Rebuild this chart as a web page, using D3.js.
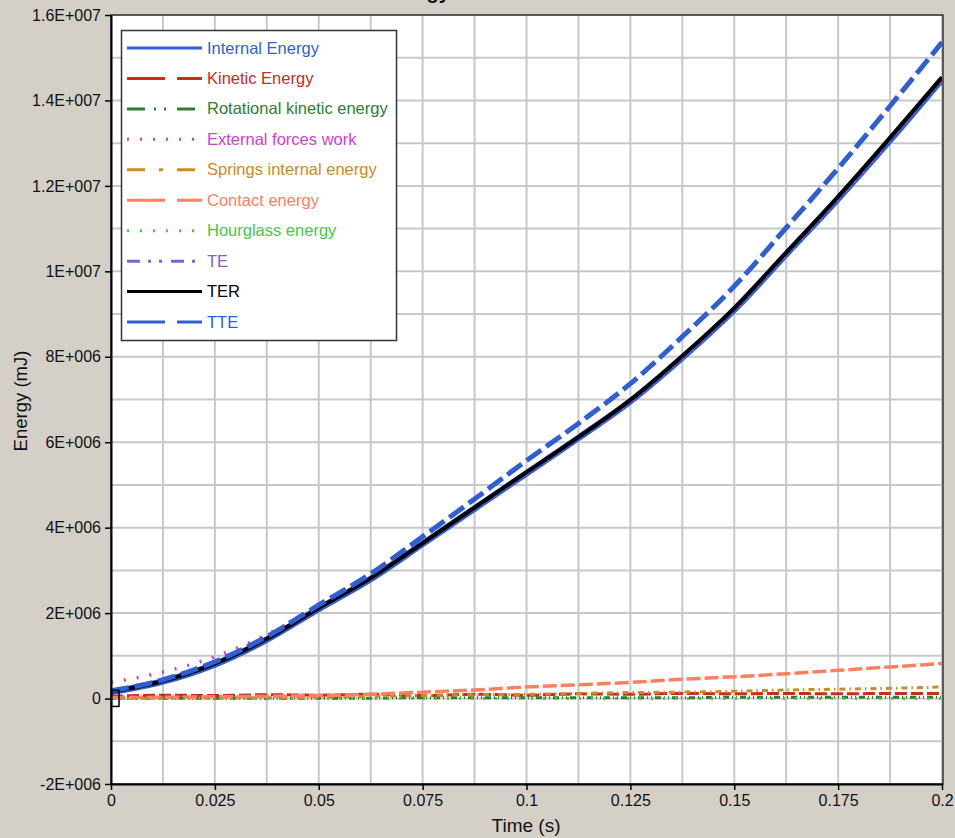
<!DOCTYPE html>
<html>
<head>
<meta charset="utf-8">
<title>Energy</title>
<script src="https://d3js.org/d3.v7.min.js"></script>
<style>
  body { margin: 0; background: #d4d0c8; }
  svg { display: block; font-family: "Liberation Sans", Arial, sans-serif; }
</style>
</head>
<body>
<svg id="chart" width="955" height="838"></svg>
<script>
// ---------------- data (energy in mJ) ----------------
var times = [0, 0.0125, 0.025, 0.0375, 0.05, 0.0625, 0.075, 0.0875, 0.1,
             0.1125, 0.125, 0.1375, 0.15, 0.1625, 0.175, 0.1875, 0.2];

var internalEnergy = [0.15e6, 0.40e6, 0.80e6, 1.38e6, 2.10e6, 2.80e6, 3.62e6, 4.45e6, 5.27e6,
                      6.10e6, 6.96e6, 7.98e6, 9.10e6, 10.40e6, 11.70e6, 13.07e6, 14.50e6];
var kineticEnergy = [0.05e6, 0.08e6, 0.07e6, 0.09e6, 0.08e6, 0.10e6, 0.07e6, 0.10e6, 0.08e6,
                     0.11e6, 0.10e6, 0.12e6, 0.11e6, 0.12e6, 0.11e6, 0.12e6, 0.12e6];
var rotationalEnergy = [0, 0.01e6, 0.01e6, 0.01e6, 0.01e6, 0.01e6, 0.02e6, 0.02e6, 0.02e6,
                        0.02e6, 0.02e6, 0.02e6, 0.03e6, 0.03e6, 0.03e6, 0.03e6, 0.03e6];
var externalWork = [0.38e6, 0.62e6, 0.98e6, 1.50e6, 2.15e6, 2.82e6, 3.62e6, 4.44e6, 5.26e6,
                    6.08e6, 6.94e6, 7.96e6, 9.08e6, 10.38e6, 11.68e6, 13.06e6, 14.50e6];
var springsEnergy = [0, 0.01e6, 0.02e6, 0.02e6, 0.03e6, 0.05e6, 0.07e6, 0.09e6, 0.10e6,
                     0.12e6, 0.14e6, 0.15e6, 0.17e6, 0.20e6, 0.22e6, 0.24e6, 0.27e6];
var contactEnergy = [0.02e6, 0.03e6, 0.04e6, 0.05e6, 0.07e6, 0.10e6, 0.15e6, 0.20e6, 0.27e6,
                     0.32e6, 0.38e6, 0.45e6, 0.51e6, 0.58e6, 0.66e6, 0.74e6, 0.82e6];
var hourglassEnergy = [0, 0, 0, 0, 0, 0, 0, 0, 0, 0, 0, 0, 0, 0, 0, 0, 0];
var totalEnergy = [0.16e6, 0.41e6, 0.81e6, 1.39e6, 2.11e6, 2.81e6, 3.63e6, 4.46e6, 5.29e6,
                   6.12e6, 6.98e6, 8.00e6, 9.13e6, 10.43e6, 11.74e6, 13.12e6, 14.55e6];
var terEnergy = [0.16e6, 0.41e6, 0.82e6, 1.40e6, 2.12e6, 2.82e6, 3.64e6, 4.47e6, 5.30e6,
                 6.12e6, 6.99e6, 8.02e6, 9.14e6, 10.44e6, 11.75e6, 13.13e6, 14.54e6];
var tteEnergy = [0.18e6, 0.44e6, 0.86e6, 1.45e6, 2.19e6, 2.92e6, 3.79e6, 4.67e6, 5.57e6,
                 6.44e6, 7.37e6, 8.47e6, 9.65e6, 11.02e6, 12.41e6, 13.87e6, 15.36e6];

var seriesNames = ["Internal Energy", "Kinetic Energy", "Rotational kinetic energy",
                   "External forces work", "Springs internal energy", "Contact energy",
                   "Hourglass energy", "TE", "TER", "TTE"];
var seriesValues = [internalEnergy, kineticEnergy, rotationalEnergy, externalWork, springsEnergy,
                    contactEnergy, hourglassEnergy, totalEnergy, terEnergy, tteEnergy];

var yTickValues = [-2e6, 0, 2e6, 4e6, 6e6, 8e6, 10e6, 12e6, 14e6, 16e6];
var yTickLabels = ["-2E+006", "0", "2E+006", "4E+006", "6E+006", "8E+006",
                   "1E+007", "1.2E+007", "1.4E+007", "1.6E+007"];
var xTickValues = [0, 0.025, 0.05, 0.075, 0.1, 0.125, 0.15, 0.175, 0.2];
var xTickLabels = ["0", "0.025", "0.05", "0.075", "0.1", "0.125", "0.15", "0.175", "0.2"];

// ---------------- styles ----------------
var styles = [
  {color: "#2f5fd3", dash: null,              width: 6.5},
  {color: "#cc2a1c", dash: "12,4",            width: 3},
  {color: "#2e7d32", dash: "6,3,1,3,1,3",     width: 3},
  {color: "#d040cf", dash: "2,11",            width: 3.5},
  {color: "#cf8a1e", dash: "6,4,1.5,4",       width: 3},
  {color: "#ff8060", dash: "14,4",            width: 3.5},
  {color: "#48c848", dash: "2,10",            width: 3},
  {color: "#8060d0", dash: "5,3,1,3,1,3",     width: 3},
  {color: "#000000", dash: null,              width: 4},
  {color: "#2f5fd3", dash: "18,6",            width: 5}
];
var legendDash = [null, "38,12", "18,9,2,8,2,11", "2,11", "18,14,4,14", "38,12",
                  "2,11", "13,8,3,8,3,9", null, "38,12"];

var svg = d3.select("#chart");
var pL = 111, pR = 942, pT = 15, pB = 784;

var x = d3.scaleLinear().domain([0, 0.2]).range([pL, pR]);
var y = d3.scaleLinear().domain([-2e6, 16e6]).range([pB, pT]);

// plot background
svg.append("rect").attr("x", pL).attr("y", pT)
   .attr("width", pR - pL).attr("height", pB - pT).attr("fill", "#fff");

// grid
var gx = d3.range(0, 0.2001, 0.0125);
var gy = d3.range(-2e6, 16.001e6, 1e6);
svg.append("g").selectAll("line").data(gx).enter().append("line")
   .attr("x1", d => x(d)).attr("x2", d => x(d)).attr("y1", pT).attr("y2", pB)
   .attr("stroke", "#c8c8c8").attr("stroke-width", 2);
svg.append("g").selectAll("line").data(gy).enter().append("line")
   .attr("x1", pL).attr("x2", pR).attr("y1", d => y(d)).attr("y2", d => y(d))
   .attr("stroke", "#c8c8c8").attr("stroke-width", 2);

// clip
svg.append("clipPath").attr("id", "clip").append("rect")
   .attr("x", pL).attr("y", pT).attr("width", pR - pL).attr("height", pB - pT);

var line = d3.line().curve(d3.curveMonotoneX).x(d => x(d[0])).y(d => y(d[1]));
var plot = svg.append("g").attr("clip-path", "url(#clip)");
seriesValues.forEach(function (vals, i) {
  var pts = times.map((t, j) => [t, vals[j]]);
  plot.append("path").datum(pts)
      .attr("d", line)
      .attr("fill", "none")
      .attr("stroke", styles[i].color)
      .attr("stroke-width", styles[i].width)
      .attr("stroke-linejoin", "round")
      .attr("stroke-dasharray", styles[i].dash);
});

// small marker box at the origin
svg.append("rect").attr("x", x(0) + 0.5).attr("y", y(0.19e6))
   .attr("width", 7.5).attr("height", 16)
   .attr("fill", "none").attr("stroke", "#000").attr("stroke-width", 1.5);

// frame
svg.append("rect").attr("x", pL).attr("y", pT)
   .attr("width", pR - pL + 1).attr("height", pB - pT)
   .attr("fill", "none").attr("stroke", "#333").attr("stroke-width", 1.5);

// axes
var yAxis = d3.axisLeft(y).tickValues(yTickValues)
  .tickFormat((d, i) => yTickLabels[i]).tickSize(6).tickPadding(4).tickSizeOuter(0);
var xAxis = d3.axisBottom(x).tickValues(xTickValues)
  .tickFormat((d, i) => xTickLabels[i]).tickSize(6).tickPadding(5).tickSizeOuter(0);

var ya = svg.append("g").attr("transform", "translate(" + pL + ",0)").call(yAxis);
var xa = svg.append("g").attr("transform", "translate(0," + pB + ")").call(xAxis);
[ya, xa].forEach(function (a) {
  a.select(".domain").attr("stroke", "#000").attr("stroke-width", 2);
  a.selectAll(".tick line").attr("stroke", "#000").attr("stroke-width", 1.5);
  a.selectAll(".tick text").attr("fill", "#111")
   .style("font-size", "16px").style("font-family", "'Liberation Sans', Arial, sans-serif");
});

// axis titles
svg.append("text").attr("x", 526).attr("y", 832).attr("text-anchor", "middle")
   .style("font-size", "19px").attr("fill", "#111").text("Time (s)");
svg.append("text").attr("transform", "translate(27,401) rotate(-90)")
   .attr("text-anchor", "middle").style("font-size", "18.5px").attr("fill", "#111")
   .text("Energy (mJ)");

// title (cut off at the top, as in the source window)
svg.append("text").attr("x", 416).attr("y", -1).attr("text-anchor", "middle")
   .style("font-size", "20px").style("font-weight", "bold").attr("fill", "#111")
   .text("Energy");

// legend
var lg = svg.append("g");
lg.append("rect").attr("x", 121.5).attr("y", 30.5).attr("width", 275).attr("height", 310)
  .attr("fill", "#fff").attr("stroke", "#333").attr("stroke-width", 1.5);
seriesNames.forEach(function (name, i) {
  var ly = 48 + i * 30.45;
  lg.append("line").attr("x1", 127).attr("x2", 202).attr("y1", ly).attr("y2", ly)
    .attr("stroke", styles[i].color).attr("stroke-width", 3)
    .attr("stroke-dasharray", legendDash[i]);
  lg.append("text").attr("x", 207).attr("y", ly + 5.5)
    .style("font-size", "16.5px").attr("fill", styles[i].color).text(name);
});
</script>
</body>
</html>
